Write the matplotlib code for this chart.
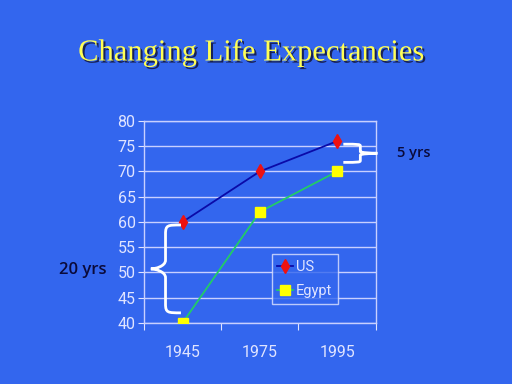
import matplotlib
matplotlib.use("Agg")
import matplotlib.pyplot as plt
import matplotlib.patheffects as pe
from matplotlib.path import Path
from matplotlib.patches import PathPatch

# data
years = ["1945", "1975", "1995"]
us = [60, 70, 76]
egypt = [40, 62, 70]
yticks = list(range(40, 81, 5))

BG = "#3366ee"
LIGHT = "#e0e4ff"
NARROW = ["Roboto", "DejaVu Sans"]

fig = plt.figure(figsize=(5.12, 3.84), dpi=100, facecolor=BG)
ax = fig.add_axes([0.281, 0.159, 0.453, 0.526], facecolor=BG)

xs = [i + 0.5 for i in range(len(years))]

ax.plot(xs, us, color="#0a0aa8", lw=1.3, marker="d", ms=7,
        mfc="#ee1111", mec="#ee1111", label="US", zorder=3)
ax.plot(xs, egypt, color="#22cc66", lw=1.3, marker="s", ms=7,
        mfc="#ffff00", mec="#ffff00", label="Egypt", zorder=3)

ax.set_xlim(0, 3)
ax.set_ylim(40, 80)
ax.set_yticks(yticks)
ax.set_yticklabels([str(v) for v in yticks], family=NARROW, fontsize=11.5, color=LIGHT)
ax.set_xticks([0, 1, 2, 3])
ax.set_xticklabels([])
ax.set_xticks(xs, minor=True)
ax.set_xticklabels(years, minor=True, family=NARROW, fontsize=11.5, color=LIGHT)
ax.tick_params(axis="x", which="minor", length=0, pad=16)
ax.tick_params(axis="x", which="major", length=5, direction="out", color=LIGHT)
ax.tick_params(axis="y", length=4, direction="out", color=LIGHT, pad=2)
ax.grid(axis="y", color="#c8d0ff", lw=1)
for s in ax.spines.values():
    s.set_color("#c8d0ff")
    s.set_linewidth(1)

leg = ax.legend(loc="lower right", bbox_to_anchor=(0.836, 0.095), frameon=True,
                fancybox=False, handlelength=1.1, handletextpad=0.15,
                borderpad=0.4, borderaxespad=0, labelspacing=0.7,
                prop={"family": NARROW, "size": 10.5})
leg.get_frame().set_facecolor(BG)
leg.get_frame().set_edgecolor(LIGHT)
for t in leg.get_texts():
    t.set_color(LIGHT)


def brace(ax, x_end, x_mid, x_tip, y_top, y_bot):
    # curly brace drawn in data coords, tip pointing towards x_tip
    ym = (y_top + y_bot) / 2
    dy = (y_top - y_bot) * 0.1
    dx = (x_end - x_mid) * 0.15
    verts = [
        (x_end, y_top),
        (x_mid + dx, y_top), (x_mid, y_top), (x_mid, y_top - dy),
        (x_mid, ym + dy),
        (x_mid, ym + dy * 0.3), (x_tip + (x_mid - x_tip) * 0.3, ym), (x_tip, ym),
        (x_tip + (x_mid - x_tip) * 0.3, ym), (x_mid, ym - dy * 0.3), (x_mid, ym - dy),
        (x_mid, y_bot + dy),
        (x_mid, y_bot), (x_mid + dx, y_bot), (x_end, y_bot),
    ]
    codes = [Path.MOVETO,
             Path.CURVE4, Path.CURVE4, Path.CURVE4,
             Path.LINETO,
             Path.CURVE4, Path.CURVE4, Path.CURVE4,
             Path.CURVE4, Path.CURVE4, Path.CURVE4,
             Path.LINETO,
             Path.CURVE4, Path.CURVE4, Path.CURVE4]
    ax.add_patch(PathPatch(Path(verts, codes), fill=False, ec="white",
                           lw=2, clip_on=False, zorder=4))


brace(ax, xs[0] - 0.02, 0.28, 0.09, us[0] - 0.6, egypt[0] + 2)
brace(ax, 2.58, 2.8, 3.02, us[2] - 0.6, 71.8)

fig.text(0.162, 0.296, "20 yrs", fontsize=12, color="#0a0a3a", family="Open Sans",
         weight="semibold", ha="center", va="center")
fig.text(0.808, 0.601, "5 yrs", fontsize=10.5, color="#0a0a3a", family="Open Sans",
         weight="semibold", ha="center", va="center")

fig.text(0.49, 0.862, "Changing Life Expectancies", fontsize=22, color="#ffff55",
         family="Liberation Serif", ha="center", va="center",
         path_effects=[pe.SimplePatchShadow(offset=(1.5, -1.5), shadow_rgbFace="#101030",
                                            alpha=0.8), pe.Normal()])

fig.savefig("out.png", dpi=100, facecolor=BG)
